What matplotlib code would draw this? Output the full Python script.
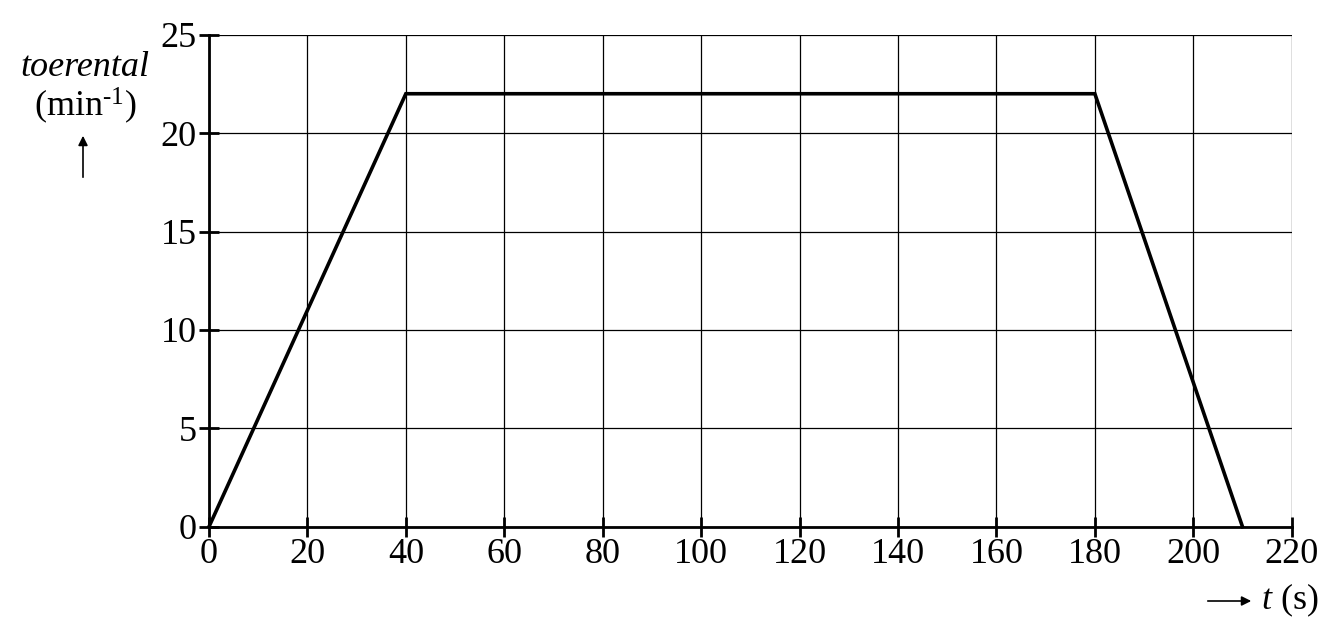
import matplotlib
matplotlib.use("Agg")
import matplotlib.pyplot as plt

t_values = [0, 40, 180, 210]
toerental = [0, 22, 22, 0]
x_ticks = list(range(0, 221, 20))
y_ticks = list(range(0, 26, 5))

plt.rcParams['font.family'] = ['Liberation Serif', 'DejaVu Serif']
plt.rcParams['mathtext.fontset'] = 'custom'
plt.rcParams['mathtext.rm'] = 'Liberation Serif'
plt.rcParams['mathtext.it'] = 'Liberation Serif:italic'

fig = plt.figure(figsize=(13.42, 6.42), dpi=100)
W, H = 1342, 642
ax = fig.add_axes([209 / W, 1 - 526.7 / H, (1291.7 - 209) / W, (526.7 - 34.7) / H])
ax.set_xlim(0, 220)
ax.set_ylim(0, 25)
ax.set_xticks(x_ticks)
ax.set_yticks(y_ticks)
ax.grid(True, color='black', linewidth=0.9)
ax.set_axisbelow(True)
for s in ['top', 'right']:
    ax.spines[s].set_visible(False)
for s in ['left', 'bottom']:
    ax.spines[s].set_linewidth(2.0)
ax.tick_params(axis='both', direction='inout', length=14, width=2.0, labelsize=26, color='black')
ax.tick_params(axis='x', pad=1)
ax.tick_params(axis='y', pad=2)

ax.plot(t_values, toerental, color='black', linewidth=2.6, solid_joinstyle='miter', clip_on=False, zorder=3)

# y label
fig.text(85 / W, 1 - 68 / H, 'toerental', style='italic', fontsize=26, ha='center', va='center')
fig.text(85 / W, 1 - 106 / H, '(min$^{\\text{-}1}$)', fontsize=26, ha='center', va='center')
fig.add_artist(matplotlib.patches.FancyArrowPatch((83 / W, 1 - 180 / H), (83 / W, 1 - 133 / H),
               transform=fig.transFigure, arrowstyle='-|>', mutation_scale=14, color='black', linewidth=1.2))

# x label
fig.add_artist(matplotlib.patches.FancyArrowPatch((1205 / W, 1 - 601 / H), (1254 / W, 1 - 601 / H),
               transform=fig.transFigure, arrowstyle='-|>', mutation_scale=14, color='black', linewidth=1.2))
fig.text(1261 / W, 1 - 600 / H, '$t$ (s)', fontsize=26, ha='left', va='center')

fig.savefig('out.png', dpi=100)
